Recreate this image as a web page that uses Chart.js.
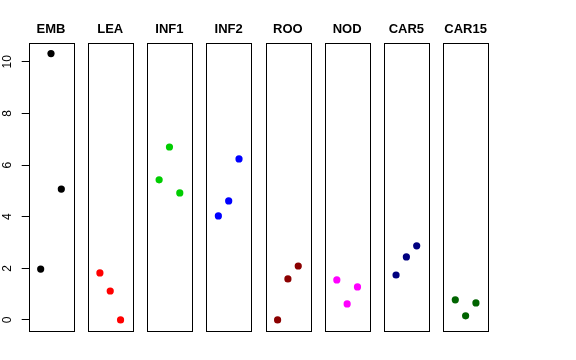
<!DOCTYPE html>
<html lang="en">
<head>
    <meta charset="UTF-8">
    <title>Panels</title>
    <script src="https://cdn.jsdelivr.net/npm/chart.js"></script>
    <style>
        body { margin: 0; background: #fff; }
        #wrap { position: relative; width: 576px; height: 360px; }
        #wrap canvas { position: absolute; left: 0; top: 0; }
    </style>
</head>
<body>
    <div id="wrap"></div>
    <script>
        // data
        const panels = ['EMB', 'LEA', 'INF1', 'INF2', 'ROO', 'NOD', 'CAR5', 'CAR15'];
        const colors = ['#000000', '#ff0000', '#00cd00', '#0000ff', '#8b0000', '#ff00ff', '#000080', '#006400'];
        const xPos = [1, 2, 3];
        const EMB = [1.97, 10.32, 5.07];
        const LEA = [1.82, 1.12, 0.0];
        const INF1 = [5.43, 6.70, 4.92];
        const INF2 = [4.03, 4.61, 6.24];
        const ROO = [0.0, 1.59, 2.09];
        const NOD = [1.55, 0.62, 1.28];
        const CAR5 = [1.74, 2.44, 2.87];
        const CAR15 = [0.78, 0.16, 0.66];
        const values = [EMB, LEA, INF1, INF2, ROO, NOD, CAR5, CAR15];
        const yTicks = [0, 2, 4, 6, 8, 10];

        const W = 576, H = 360;
        const boxTop = 43, boxBottom = 330.5, boxW = 44.6;

        // box + title for every panel
        const panelDeco = {
            id: 'panelDeco',
            afterDraw(chart, args, opts) {
                const a = chart.chartArea, ctx = chart.ctx;
                ctx.save();
                ctx.strokeStyle = '#000';
                ctx.lineWidth = 1;
                ctx.strokeRect(Math.round(a.left) + 0.5, Math.round(a.top) + 0.5,
                    Math.round(a.right - a.left), Math.round(a.bottom - a.top));
                ctx.fillStyle = '#000';
                ctx.font = 'bold 13px "Liberation Sans", Arial, sans-serif';
                ctx.textAlign = 'center';
                ctx.textBaseline = 'middle';
                ctx.fillText(opts.title, (a.left + a.right) / 2, 29.5);
                if (opts.yLabels) {
                    const y = chart.scales.y;
                    ctx.font = '12px "Liberation Sans", Arial, sans-serif';
                    yTicks.forEach(v => {
                        ctx.save();
                        ctx.translate(7.5, y.getPixelForValue(v));
                        ctx.rotate(-Math.PI / 2);
                        ctx.fillText(String(v), 0, 0);
                        ctx.restore();
                    });
                }
                ctx.restore();
            }
        };

        panels.forEach((name, i) => {
            const cv = document.createElement('canvas');
            cv.width = W; cv.height = H;
            document.getElementById('wrap').appendChild(cv);
            const left = 28.7 + 59.23 * i;
            const first = i === 0;
            const yScale = {
                display: first,
                min: -0.41,
                max: 10.73,
                afterBuildTicks: s => { s.ticks = yTicks.map(v => ({value: v})); },
                ticks: { display: false },
                grid: { drawOnChartArea: false, tickLength: 7, color: '#000' },
                border: { display: false }
            };
            if (first) {
                yScale.afterFit = s => { s.width = left; };
            }
            new Chart(cv, {
                type: 'scatter',
                data: {
                    datasets: [{
                        data: xPos.map((x, k) => ({x: x, y: values[i][k]})),
                        backgroundColor: colors[i],
                        borderWidth: 0,
                        pointRadius: 3.6,
                        pointHoverRadius: 3.6
                    }]
                },
                options: {
                    responsive: false,
                    animation: false,
                    devicePixelRatio: 1,
                    layout: {
                        padding: {
                            left: first ? 0 : left,
                            right: W - left - boxW,
                            top: boxTop,
                            bottom: H - boxBottom
                        }
                    },
                    plugins: {
                        legend: { display: false },
                        tooltip: { enabled: false },
                        panelDeco: { title: name, yLabels: first }
                    },
                    scales: {
                        x: { display: false, min: -0.16, max: 4.16 },
                        y: yScale
                    }
                },
                plugins: [panelDeco]
            });
        });
    </script>
</body>
</html>
